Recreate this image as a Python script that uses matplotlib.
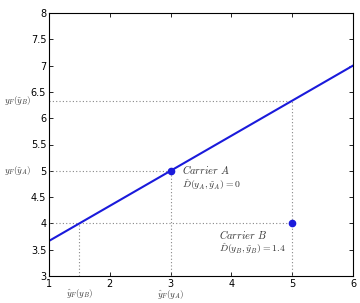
import matplotlib
matplotlib.use("Agg")
import matplotlib.pyplot as plt
import numpy as np

plt.rcParams['mathtext.fontset'] = 'cm'
plt.rcParams['font.family'] = ['DejaVu Sans']

line_x = [1, 6]
line_y = [11/3, 7]
point_a = (3, 5)
point_b = (5, 4)
xticks = [1, 2, 3, 4, 5, 6]
yticks = [3, 3.5, 4, 4.5, 5, 5.5, 6, 6.5, 7, 7.5, 8]
ytick_labels = ['3', '3.5', '4', '4.5', '5', '5.5', '6', '6.5', '7', '7.5', '8']
yF_B = 19/3
yF_A = 5
xF_B = 1.5
xF_A = 3

fig = plt.figure(figsize=(3.6, 3.03), dpi=100)
ax = fig.add_axes([49/360, 27/303, 304/360, 263/303])

dot = dict(color='#888888', linestyle=(0, (1, 2)), linewidth=0.8)
ax.plot([1, 5], [yF_B, yF_B], **dot)
ax.plot([5, 5], [3, yF_B], **dot)
ax.plot([1, 3], [yF_A, yF_A], **dot)
ax.plot([xF_A, xF_A], [3, yF_A], **dot)
ax.plot([1, 5], [point_b[1], point_b[1]], **dot)
ax.plot([xF_B, xF_B], [3, 4], **dot)

ax.plot(line_x, line_y, color='#1a1adb', linewidth=1.5)
ax.plot(*point_a, 'o', color='#1a1adb', markersize=4.5)
ax.plot(*point_b, 'o', color='#1a1adb', markersize=4.5)

ax.set_xlim(1, 6)
ax.set_ylim(3, 8)
ax.set_xticks(xticks)
ax.set_yticks(yticks)
ax.set_yticklabels(ytick_labels)
ax.tick_params(direction='in', top=True, right=True, labelsize=7, length=3, width=0.6, pad=2)
for s in ax.spines.values():
    s.set_linewidth(0.8)

tc = '#333333'
ax.text(3.18, 4.93, r'$Carrier\ A$', fontsize=7.5, color=tc)
ax.text(3.18, 4.68, r'$\hat{D}(y_A,\tilde{y}_A) = 0$', fontsize=7, color=tc)
ax.text(3.8, 3.71, r'$Carrier\ B$', fontsize=7.5, color=tc)
ax.text(3.8, 3.46, r'$\hat{D}(y_B,\tilde{y}_B) = 1.4$', fontsize=7, color=tc)

ax.text(-0.058, yF_B, r'$y_F(\tilde{y}_B)$', transform=ax.get_yaxis_transform(),
        ha='right', va='center', fontsize=6.5, color=tc)
ax.text(-0.058, yF_A, r'$y_F(\tilde{y}_A)$', transform=ax.get_yaxis_transform(),
        ha='right', va='center', fontsize=6.5, color=tc)
ax.text(xF_B, -0.068, r'$\hat{y}_F(y_B)$', transform=ax.get_xaxis_transform(),
        ha='center', va='center', fontsize=6.5, color=tc)
ax.text(xF_A, -0.072, r'$\hat{y}_F(y_A)$', transform=ax.get_xaxis_transform(),
        ha='center', va='center', fontsize=6.5, color=tc)

fig.savefig('out.png', dpi=100)
